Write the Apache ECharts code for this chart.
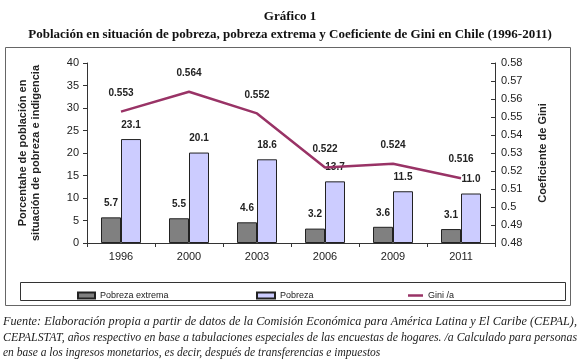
<!DOCTYPE html>
<html><head><meta charset="utf-8">
<script src="https://cdn.jsdelivr.net/npm/echarts@6/dist/echarts.min.js"></script>
<style>html,body{margin:0;padding:0;background:#fff}#c{width:580px;height:361px}</style>
</head><body><div id="c"></div>
<script>
const categories = ['1996','2000','2003','2006','2009','2011'];
const pobrezaExtrema = [5.7, 5.5, 4.6, 3.2, 3.6, 3.1];
const pobreza = [23.1, 20.1, 18.6, 13.7, 11.5, 11.0];
const gini = [0.553, 0.564, 0.552, 0.522, 0.524, 0.516];
const footLines = [
 'Fuente: Elaboración propia a partir de datos de la Comisión Económica para América Latina y El Caribe (CEPAL),',
 'CEPALSTAT, años respectivo en base a tabulaciones especiales de las encuestas de hogares. /a Calculado para personas',
 'en base a los ingresos monetarios, es decir, después de transferencias e impuestos'
];
const chart = echarts.init(document.getElementById('c'));
const sans = 'Liberation Sans';
const footFont = 'italic 11.5px "Liberation Serif"';
const ctx = document.createElement('canvas').getContext('2d');
ctx.font = footFont;
function fit(t, w){ const m = ctx.measureText(t).width; return w / m; }
const lblStyle = {show:true, position:'top', distance:9, fontFamily:sans, fontSize:10, fontWeight:'bold', color:'#222', formatter:p=>p.value.toFixed(1)};
const legText = {fontFamily:sans, fontSize:9, color:'#222'};
chart.setOption({
  animation:false,
  title:[
    {text:'Gráfico 1', left:'center', top:5, textStyle:{fontFamily:'Liberation Serif', fontSize:13, fontWeight:'bold', color:'#111'}},
    {text:'Población en situación de pobreza, pobreza extrema y Coeficiente de Gini en Chile (1996-2011)', left:'center', top:23, textStyle:{fontFamily:'Liberation Serif', fontSize:13, fontWeight:'bold', color:'#111'}}
  ],
  graphic:[
    {type:'rect', shape:{x:5.5, y:47.5, width:565, height:258}, style:{fill:'none', stroke:'#666', lineWidth:1}},
    {type:'rect', shape:{x:20.5, y:282.5, width:545, height:18}, style:{fill:'none', stroke:'#333', lineWidth:1}},
    {type:'text', x:3, y:316, scaleX:fit(footLines[0],574), style:{text:footLines[0], font:footFont, fill:'#222'}},
    {type:'text', x:3, y:331.5, scaleX:fit(footLines[1],574), style:{text:footLines[1], font:footFont, fill:'#222'}},
    {type:'text', x:3, y:347, style:{text:footLines[2], font:footFont, fill:'#222'}}
  ],
  legend:[
    {data:[{name:'Pobreza extrema', icon:'rect'}], left:72, top:286, itemWidth:17, itemHeight:6, itemGap:3, textStyle:legText},
    {data:[{name:'Pobreza', icon:'rect'}], left:251, top:286, itemWidth:18, itemHeight:6, textStyle:legText},
    {data:[{name:'Gini /a', icon:'rect', itemStyle:{color:'#993366', opacity:1, borderWidth:0}}], left:403, top:286, itemWidth:15, itemHeight:2.5, textStyle:legText}
  ],
  grid:{left:87, right:85, top:63, bottom:118},
  xAxis:{type:'category', data:categories,
    axisLine:{lineStyle:{color:'#333'}}, axisTick:{show:true, length:4, lineStyle:{color:'#333'}},
    axisLabel:{fontFamily:sans, fontSize:11, color:'#222', margin:8}},
  yAxis:[
    {type:'value', min:0, max:40, interval:5, splitLine:{show:false},
     axisLine:{show:true, lineStyle:{color:'#333'}}, axisTick:{show:true, length:4, lineStyle:{color:'#333'}},
     axisLabel:{fontFamily:sans, fontSize:11, color:'#222', margin:8},
     name:'Porcentahe de población en\nsituación de pobreza e indigencia', nameLocation:'middle', nameRotate:90, nameGap:45,
     nameTextStyle:{fontFamily:sans, fontSize:11, fontWeight:'bold', color:'#222', lineHeight:13}},
    {type:'value', min:0.48, max:0.58, interval:0.01, splitLine:{show:false},
     axisLine:{show:true, lineStyle:{color:'#333'}}, axisTick:{show:true, length:4, inside:true, lineStyle:{color:'#333'}},
     axisLabel:{fontFamily:sans, fontSize:11, color:'#222', margin:6, formatter:v=>String(parseFloat(v.toFixed(2)))},
     name:'Coeficiente de Gini', nameLocation:'middle', nameRotate:90, nameGap:42,
     nameTextStyle:{fontFamily:sans, fontSize:11, fontWeight:'bold', color:'#222'}}
  ],
  series:[
    {name:'Pobreza extrema', type:'bar', data:pobrezaExtrema, barWidth:20, barGap:'0%',
     itemStyle:{color:'#808080', borderColor:'#222', borderWidth:1}, label:lblStyle},
    {name:'Pobreza', type:'bar', data:pobreza, barWidth:20,
     itemStyle:{color:'#ccccff', borderColor:'#222', borderWidth:1}, label:lblStyle},
    {name:'Gini /a', type:'line', yAxisIndex:1, data:gini, symbol:'circle', symbolSize:1, showSymbol:true,
     lineStyle:{color:'#993366', width:2.5}, itemStyle:{color:'#993366', opacity:0},
     label:{show:true, position:'top', distance:13, fontFamily:sans, fontSize:10, fontWeight:'bold', color:'#222', opacity:1, formatter:p=>p.value.toFixed(3)}}
  ]
});
</script></body></html>
